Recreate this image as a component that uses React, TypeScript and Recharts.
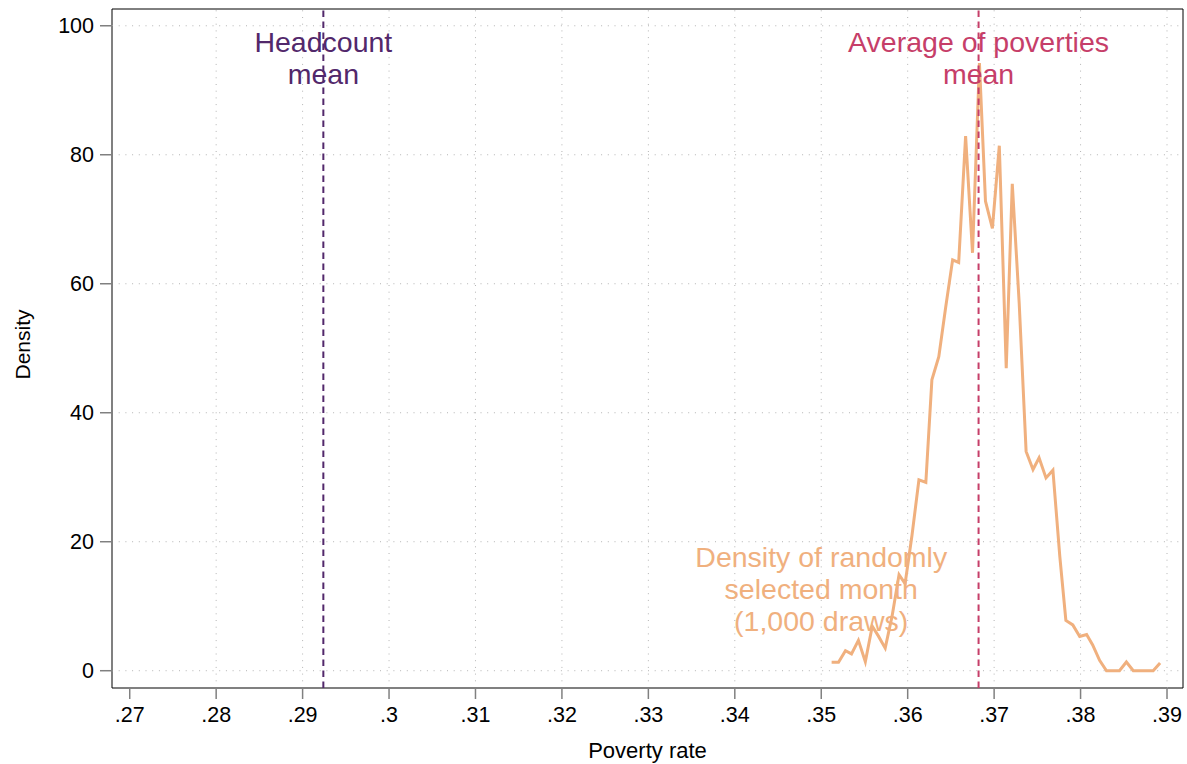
import React from 'react';
import {
    LineChart,
    Line,
    XAxis,
    YAxis,
    ReferenceLine,
    ReferenceArea,
    ReferenceDot,
} from 'recharts';

// poverty rate of each simulated month bin, and its density
const povertyRate = [
    0.3512, 0.352, 0.3528, 0.3535, 0.3543, 0.3551, 0.3559, 0.3566, 0.3574, 0.3582,
    0.359, 0.3597, 0.3605, 0.3613, 0.3621, 0.3628, 0.3636, 0.3644, 0.3652, 0.3659,
    0.3667, 0.3675, 0.3683, 0.369, 0.3698, 0.3706, 0.3714, 0.3721, 0.3729, 0.3737,
    0.3745, 0.3752, 0.376, 0.3768, 0.3776, 0.3783, 0.3791, 0.3799, 0.3807, 0.3814,
    0.3822, 0.383, 0.3838, 0.3845, 0.3853, 0.3861, 0.3869, 0.3876, 0.3884, 0.3892,
];
const density = [
    1.3, 1.3, 3.1, 2.6, 4.7, 1.4, 6.9, 5.4, 3.5, 8.5,
    14.9, 13.5, 21, 29.6, 29.2, 45.1, 48.7, 56.4, 63.7, 63.3,
    82.9, 64.8, 94.2, 72.8, 68.6, 81.4, 46.9, 75.5, 57, 34,
    31.2, 33, 29.9, 31.1, 17.7, 7.8, 7.1, 5.3, 5.6, 4,
    1.6, 0, 0, 0, 1.35, 0, 0, 0, 0, 1.2,
];

const xTicks = [0.27, 0.28, 0.29, 0.3, 0.31, 0.32, 0.33, 0.34, 0.35, 0.36, 0.37, 0.38, 0.39];
const xGrid = [0.28, 0.29, 0.3, 0.31, 0.32, 0.33, 0.34, 0.35, 0.36, 0.37, 0.38, 0.39];
const yTicks = [0, 20, 40, 60, 80, 100];

const headcountMean = 0.2924;
const avgPovertiesMean = 0.3682;

const labels = [
    { x: headcountMean, y: 96, lines: ['Headcount', 'mean'], color: '#52286b' },
    { x: avgPovertiesMean, y: 96, lines: ['Average of poverties', 'mean'], color: '#c63e69' },
    { x: 0.35, y: 16.1, lines: ['Density of randomly', 'selected month', '(1,000 draws)'], color: '#f0b07e' },
];

const X_DOMAIN: [number, number] = [0.26795, 0.39185];
const Y_DOMAIN: [number, number] = [-2.68, 102.6];
const FONT = "Helvetica, 'Liberation Sans', Arial, sans-serif";
const AXIS_GREY = '#808080';
const GRID_GREY = '#b4b4b4';

const data = povertyRate.map((x, i) => ({ x, y: density[i] }));

const fmtX = (v: number) => v.toFixed(2).replace(/^0/, '').replace(/0$/, '');

const textShape = (lines: string[], color: string) => (props: any) => (
    <text x={props.cx} y={props.cy} textAnchor="middle" fill={color} fontSize={28.5} fontFamily={FONT}>
        {lines.map((l, i) => (
            <tspan key={i} x={props.cx} dy={i === 0 ? 0 : 32}>
                {l}
            </tspan>
        ))}
    </text>
);

const App = () => {
    return (
        <div style={{ position: 'absolute', left: 0, top: 0, width: 1187, height: 764, background: '#fff' }}>
            <LineChart width={1187} height={764} data={data} margin={{ top: 9, right: 4, bottom: 0, left: 0 }}>
                <XAxis
                    type="number"
                    dataKey="x"
                    domain={X_DOMAIN}
                    ticks={xTicks}
                    interval={0}
                    allowDataOverflow
                    tickFormatter={fmtX}
                    axisLine={false}
                    tickLine={{ stroke: AXIS_GREY, strokeWidth: 1.5 }}
                    tickSize={11}
                    tickMargin={8}
                    tick={{ fill: '#000', fontSize: 21.5, fontFamily: FONT }}
                    height={76}
                    label={{
                        content: (p: any) => (
                            <text
                                x={p.viewBox.x + p.viewBox.width / 2}
                                y={758}
                                textAnchor="middle"
                                fontSize={22}
                                fontFamily={FONT}
                                fill="#000"
                            >
                                Poverty rate
                            </text>
                        ),
                    }}
                />
                <YAxis
                    type="number"
                    domain={Y_DOMAIN}
                    ticks={yTicks}
                    interval={0}
                    allowDataOverflow
                    axisLine={false}
                    tickLine={{ stroke: AXIS_GREY, strokeWidth: 1.5 }}
                    tickSize={12}
                    tickMargin={6}
                    tick={{ fill: '#000', fontSize: 21.5, fontFamily: FONT }}
                    width={112}
                    label={{
                        content: (p: any) => {
                            const cy = p.viewBox.y + p.viewBox.height / 2 - 4;
                            return (
                                <text
                                    x={30}
                                    y={cy}
                                    transform={`rotate(-90, 30, ${cy})`}
                                    textAnchor="middle"
                                    fontSize={21}
                                    fontFamily={FONT}
                                    fill="#000"
                                >
                                    Density
                                </text>
                            );
                        },
                    }}
                />

                {yTicks.map((v) => (
                    <ReferenceLine key={'h' + v} y={v} stroke={GRID_GREY} strokeWidth={1} strokeDasharray="1 5.7" />
                ))}
                {xGrid.map((v) => (
                    <ReferenceLine key={'v' + v} x={v} stroke={GRID_GREY} strokeWidth={1} strokeDasharray="1 5.7" />
                ))}

                <ReferenceArea
                    x1={X_DOMAIN[0]}
                    x2={X_DOMAIN[1]}
                    y1={Y_DOMAIN[0]}
                    y2={Y_DOMAIN[1]}
                    fill="none"
                    fillOpacity={0}
                    stroke="#000"
                    strokeWidth={1}
                />
                <ReferenceLine
                    segment={[
                        { x: X_DOMAIN[0], y: yTicks[0] },
                        { x: X_DOMAIN[0], y: yTicks[yTicks.length - 1] },
                    ]}
                    stroke={AXIS_GREY}
                    strokeWidth={2}
                />
                <ReferenceLine
                    segment={[
                        { x: xTicks[0], y: Y_DOMAIN[0] },
                        { x: xTicks[xTicks.length - 1], y: Y_DOMAIN[0] },
                    ]}
                    stroke={AXIS_GREY}
                    strokeWidth={2}
                />

                <Line
                    type="linear"
                    dataKey="y"
                    stroke="#f0b07e"
                    strokeWidth={3}
                    dot={false}
                    activeDot={false}
                    isAnimationActive={false}
                />

                <ReferenceLine x={headcountMean} stroke="#52286b" strokeWidth={2} strokeDasharray="6.5 4.5" />
                <ReferenceLine x={avgPovertiesMean} stroke="#c63e69" strokeWidth={2} strokeDasharray="6.5 4.5" />

                {labels.map((l) => (
                    <ReferenceDot key={l.lines[0]} x={l.x} y={l.y} r={0} shape={textShape(l.lines, l.color)} />
                ))}
            </LineChart>
        </div>
    );
};

export default App;
